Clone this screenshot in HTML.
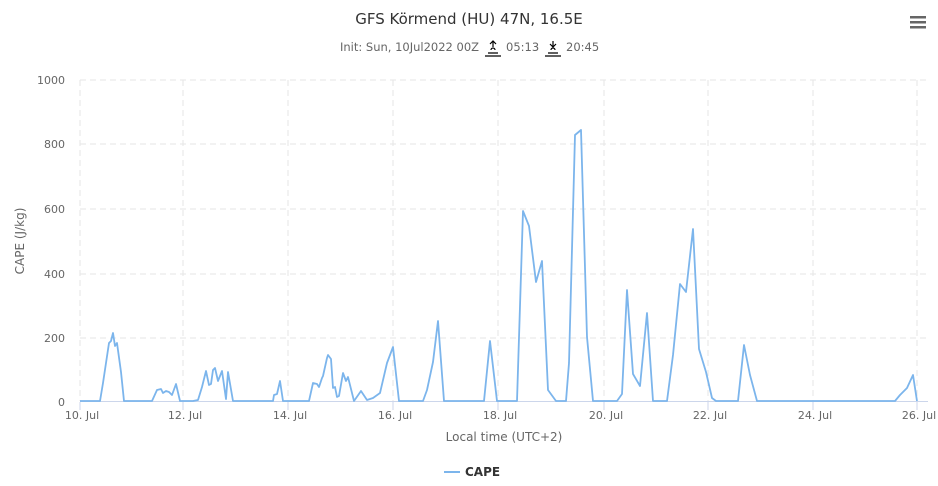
<!DOCTYPE html><html><head><style>body{margin:0;background:#fff;font-family:"DejaVu Sans","Liberation Sans",sans-serif}</style></head><body>
<svg width="938" height="482" xmlns="http://www.w3.org/2000/svg" font-family="DejaVu Sans, Liberation Sans, sans-serif">
<rect width="938" height="482" fill="#fff"/>
<text x="469" y="24" text-anchor="middle" font-size="15" fill="#333">GFS Körmend (HU) 47N, 16.5E</text>
<text x="340" y="51" font-size="11.5" fill="#666">Init: Sun, 10Jul2022 00Z</text>
<g stroke="#000" fill="none" stroke-width="1.2"><path d="M485 56h16M488 53h10M491 50a2 2 0 0 1 4 0M493 47v-6M490 44l3-3 3 3"/><path d="M545 56h16M548 53h10M551 50a2 2 0 0 1 4 0M553 41v6M550 44l3 3 3-3"/></g>
<text x="506" y="51" font-size="11.5" fill="#666">05:13</text>
<text x="566" y="51" font-size="11.5" fill="#666">20:45</text>
<g fill="#666"><rect x="910" y="16" width="16" height="2.5"/><rect x="910" y="21" width="16" height="2.5"/><rect x="910" y="26" width="16" height="2.5"/></g>
<g stroke="#e6e6e6" stroke-dasharray="6,4" stroke-width="1">
<path d="M80 80H928M80 144H928M80 209H928M80 274H928M80 338H928"/>
<path d="M80 80V401M183 80V401M288 80V401M393 80V401M498 80V401M604 80V401M708 80V401M813 80V401M917 80V401"/>
</g>
<line x1="80" y1="401.5" x2="928" y2="401.5" stroke="#ccd6eb"/>
<g stroke="#ccd6eb"><path d="M80 402v8M183 402v8M288 402v8M393 402v8M498 402v8M604 402v8M708 402v8M813 402v8M917 402v8"/></g>
<g font-size="11" fill="#666" text-anchor="end"><text x="65" y="406">0</text><text x="65" y="342">200</text><text x="65" y="278">400</text><text x="65" y="213">600</text><text x="65" y="148">800</text><text x="65" y="84">1000</text></g>
<g font-size="11" fill="#666" text-anchor="middle"><text x="82" y="419">10. Jul</text><text x="185" y="419">12. Jul</text><text x="290" y="419">14. Jul</text><text x="395" y="419">16. Jul</text><text x="500" y="419">18. Jul</text><text x="606" y="419">20. Jul</text><text x="710" y="419">22. Jul</text><text x="815" y="419">24. Jul</text><text x="919" y="419">26. Jul</text></g>
<text x="504" y="441" font-size="12" fill="#666" text-anchor="middle">Local time (UTC+2)</text>
<text transform="translate(24 241) rotate(-90)" font-size="12" fill="#666" text-anchor="middle">CAPE (J/kg)</text>
<polyline fill="none" stroke="#7cb5ec" stroke-width="1.8" stroke-linejoin="round" points="80,401 100,401 103,383 109,343 111,341 113,333 115,346 117,343 121,372 124,401 152,401 157,390 161,389 163,393 166,391 169,392 172,395 176,384 180,401 193,401 198,400 202,387 206,371 209,385 211,384 213,370 215,368 218,381 222,371 226,399 228,372 233,401 273,401 274,395 277,394 280,381 283,401 309,401 313,383 317,384 319,387 322,378 323,376 327,358 328,355 331,359 333,388 335,387 337,397 339,396 343,373 346,381 348,377 354,401 361,391 367,400 373,398 380,393 387,363 393,347 399,401 423,401 427,390 433,362 438,321 444,401 484,401 490,341 497,401 517,401 523,211 529,226 536,282 542,261 548,390 556,401 566,401 569,363 575,135 581,130 587,337 593,401 617,401 622,394 627,290 633,374 640,386 647,313 653,401 667,401 673,355 680,284 686,292 693,229 699,349 706,372 712,398 716,401 738,401 744,345 750,375 757,401 800,401 895,401 900,395 907,388 913,375 917,401"/>
<line x1="444" y1="472" x2="460" y2="472" stroke="#7cb5ec" stroke-width="2"/>
<text x="465" y="476" font-size="12" font-weight="bold" fill="#333">CAPE</text>
</svg></body></html>
